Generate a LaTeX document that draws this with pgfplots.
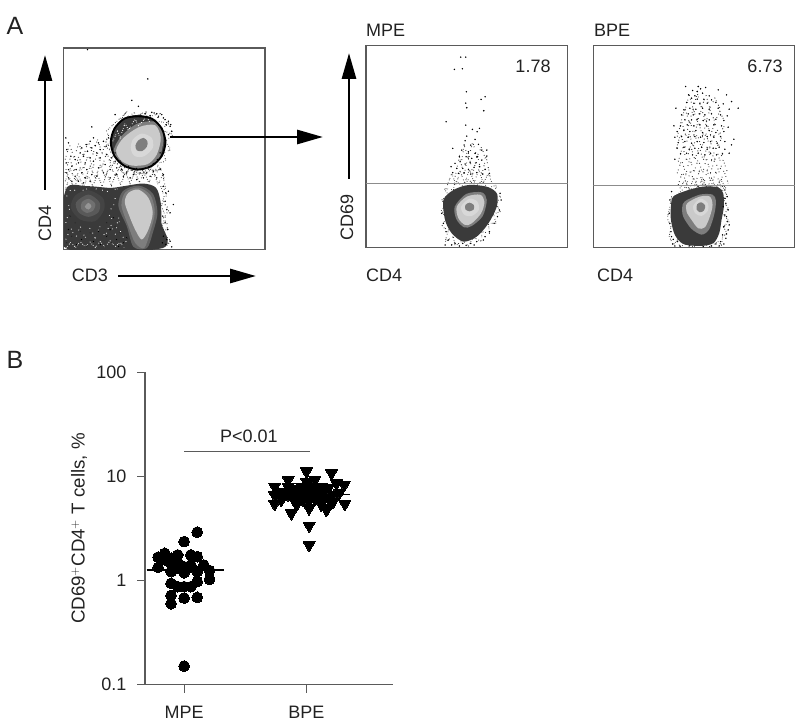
\documentclass[border=0pt]{standalone}
\usepackage{pgfplots}
\pgfplotsset{compat=1.18}
\usepackage{fontspec}
\setmainfont{Liberation Sans}
\usetikzlibrary{arrows.meta}
\definecolor{ink}{HTML}{222222}
\definecolor{frame}{HTML}{5A5A5A}
\definecolor{dk}{HTML}{3A3A3A}
\definecolor{md}{HTML}{7E7E7E}
\definecolor{lt}{HTML}{CACACA}
\definecolor{wh}{HTML}{D8D8D8}
\newcommand\fs{\fontsize{18}{20}\selectfont}
\pgfplotsset{
 flow/.style={scale only axis,width=201.5pt,height=201.5pt,y dir=reverse,xtick=\empty,ytick=\empty,
   axis line style={draw=frame,line width=1.2pt}},
 blob/.style={draw=none,fill=#1,smooth cycle,mark=none,forget plot},
 grain/.style={draw=#1,fill=none,line width=0.85pt,mark=none,forget plot,dash pattern=on 0.8pt off 1.3pt on 0.6pt off 2.3pt on 0.9pt off 0.9pt on 0.6pt off 3.1pt on 0.7pt off 1.7pt},
 sparse/.style={draw=#1,fill=none,line width=0.95pt,mark=none,forget plot,dash pattern=on 0.8pt off 2.3pt on 0.7pt off 4.1pt on 0.9pt off 1.7pt on 0.7pt off 5.3pt on 0.8pt off 3.1pt},
 wsparse/.style={draw=white,fill=none,line width=0.9pt,mark=none,forget plot,dash pattern=on 0.7pt off 4.3pt on 0.8pt off 7.9pt on 0.7pt off 3.1pt on 0.6pt off 9.1pt on 0.8pt off 5.7pt},
 grain/.default=dk, sparse/.default=dk,
 dots/.style={only marks,mark=*,mark size=0.5pt,mark options={draw=none,fill=#1},forget plot},
}
\tikzset{bigarrow/.style={line width=2.9pt,draw=black,-{Triangle[length=26pt,width=14pt]}}}
\begin{document}
\begin{tikzpicture}
\path[use as bounding box] (0pt,0pt) rectangle (799pt,726pt);
% ---------------- panel 1
\begin{axis}[flow,at={(63.5pt,476.5pt)},anchor=south west,xmin=190,xmax=795,ymin=115,ymax=720]
% speckle
\addplot[grain] coordinates {(195,540)(208,505)(222,535)(236,500)(250,532)(264,498)(278,530)(292,495)(306,530)(320,492)(334,528)(348,490)(362,526)(376,488)(390,522)(404,486)(418,518)(432,486)(446,520)(460,488)(474,525)(488,495)(497,540)};
\addplot[grain] coordinates {(195,515)(210,478)(225,512)(240,475)(255,508)(270,470)(285,505)(300,468)(315,502)(330,466)(345,500)(360,470)(375,498)(390,470)(405,495)(420,468)(435,498)(450,470)(465,498)(480,472)(492,505)};
\addplot[sparse] coordinates {(195,490)(208,445)(222,485)(236,440)(250,480)(264,435)(278,475)(292,430)(306,472)(320,428)(334,470)(348,455)(362,482)(380,470)(400,488)(425,475)(450,485)(480,475)};
\addplot[sparse] coordinates {(195,450)(208,405)(222,445)(236,400)(250,440)(264,395)(278,435)(292,390)(306,430)(320,390)(332,430)};
\addplot[sparse] coordinates {(488,530)(500,555)(490,580)(508,600)(490,625)(505,650)(490,672)(512,695)(492,716)};
\addplot[grain] coordinates {(482,530)(492,560)(484,590)(496,620)(486,650)(498,680)(488,716)};
% halo around gate
\addplot[grain] coordinates {(345,340)(375,312)(360,335)(405,308)(395,325)(440,305)(430,325)(480,312)(465,335)(510,340)(480,360)(520,375)(495,395)(512,420)(490,430)(498,455)(475,460)(470,485)(445,478)(420,495)(400,480)(365,490)(365,470)(325,450)(345,435)(315,410)(335,395)(318,365)(345,340)};
\addplot[dots=dk] coordinates {
(262,120)(443,208)(395,272)(415,290)(345,315)(275,352)(395,322)(420,316)(435,312)(450,318)(462,310)(475,322)(485,315)(495,330)(505,335)(510,350)(498,345)(515,365)(505,375)(512,345)(490,325)(470,312)(455,308)(440,320)
(197,385)(205,400)(200,420)(212,440)(198,460)(205,480)(215,470)(225,450)(235,460)(228,480)(240,430)(250,440)(245,415)(262,425)(258,405)(270,395)(275,415)(285,408)(280,385)(295,400)(300,420)(310,395)(318,410)(325,385)(290,430)(270,445)(255,460)(280,455)(300,445)(320,435)(335,445)(345,455)(260,480)(245,490)(225,500)(205,505)(200,490)(215,515)(235,515)(255,505)(275,495)(295,475)(315,465)(330,480)(350,475)(365,480)(380,490)(400,495)(420,490)(440,490)(460,485)(480,480)(490,495)(470,505)(450,500)(430,505)(410,510)(390,505)(370,500)(350,495)(330,505)(310,490)(290,500)(270,515)(250,520)
(490,530)(497,550)(505,545)(520,585)(495,575)(500,600)(488,620)(510,610)(495,640)(503,660)(490,680)(510,695)(497,705)(515,712)(487,700)(500,690)};
% lower population
\addplot[blob=dk] coordinates {(197,540)(260,530)(330,535)(370,530)(430,522)(468,535)(482,580)(484,640)(486,716)(197,716)};
\addplot[blob=dk!85!md] coordinates {(265,542)(308,565)(312,600)(285,635)(240,630)(212,595)(225,558)};
\addplot[blob=dk!55!md] coordinates {(265,555)(298,578)(295,608)(265,622)(235,608)(228,578)};
\addplot[blob=dk!20!md] coordinates {(265,568)(285,582)(280,602)(260,610)(243,598)(245,578)};
\addplot[blob=md!70!lt] coordinates {(265,580)(274,590)(265,600)(254,592)};
\addplot[blob=dk!40!md] coordinates {(415,528)(458,552)(472,610)(458,670)(440,716)(400,712)(380,650)(355,590)(368,545)};
\addplot[blob=md] coordinates {(415,534)(452,558)(464,610)(450,668)(432,716)(405,700)(385,650)(364,588)(376,548)};
\addplot[blob=lt] coordinates {(415,540)(445,565)(458,610)(445,660)(425,690)(405,660)(388,620)(374,578)(385,550)};
% white speckle on dark
\addplot[grain=white] coordinates {(197,716)(212,698)(226,714)(240,696)(255,712)(270,698)(285,714)(300,696)(315,712)(330,694)(345,712)(360,698)(372,714)};
\addplot[wsparse] coordinates {(197,690)(212,655)(226,688)(240,650)(255,685)(270,655)(285,685)(300,650)(315,682)(330,640)(345,680)(355,620)(362,672)(380,700)};
\addplot[wsparse] coordinates {(197,640)(208,600)(200,560)(212,540)(240,545)(270,535)(300,540)(330,548)(352,535)(340,590)(322,610)(345,640)};
\addplot[dots=white,mark size=0.6pt] coordinates {(200,700)(215,680)(230,705)(205,660)(245,690)(260,710)(280,695)(300,705)(320,680)(335,700)(350,690)(330,660)(345,650)(315,710)(355,710)(340,625)(320,640)(225,640)(210,620)(240,665)(270,670)(295,665)(360,670)(370,700)(380,685)};
% gated population
\addplot[blob=dk] coordinates {(496,398)(485,357)(455,327)(414,316)(373,327)(343,357)(332,398)(343,439)(373,469)(414,480)(455,469)(485,439)};
\addplot[blob=md] coordinates {(340,425)(362,382)(412,342)(472,338)(490,385)(478,445)(445,474)(395,476)(355,460)};
\addplot[blob=lt] coordinates {(348,422)(370,385)(418,352)(465,347)(482,385)(470,435)(442,464)(395,468)(362,452)};
\addplot[blob=wh] coordinates {(425,372)(455,385)(458,415)(432,440)(405,440)(392,420)(398,390)};
\addplot[blob=md] coordinates {(430,385)(442,395)(440,412)(425,425)(410,422)(406,408)(414,393)};
\addplot[grain=white] coordinates {(338,395)(352,365)(360,385)(375,340)(385,362)(405,328)(415,348)(440,322)(450,340)};
\addplot[dots=white,mark size=0.6pt] coordinates {(472,450)(480,430)(460,462)(440,475)(410,477)(385,470)(360,455)(345,430)};
\addplot[draw=black,line width=1.9pt,smooth cycle,mark=none,fill=none,forget plot] coordinates {(496,398)(485,357)(455,327)(414,320)(373,327)(343,357)(332,398)(343,439)(373,469)(414,480)(455,469)(485,439)};
\end{axis}
% ---------------- panel 2
\begin{axis}[flow,at={(366pt,478.7pt)},anchor=south west,xmin=78,xmax=682,ymin=107,ymax=712]
\addplot[sparse] coordinates {(345,500)(358,440)(372,495)(385,430)(398,490)(412,435)(425,495)(438,440)(450,500)};
\addplot[sparse] coordinates {(365,450)(372,405)(385,445)(398,395)(410,440)(425,410)(435,445)};
\addplot[grain] coordinates {(322,525)(335,490)(348,525)(360,482)(374,520)(388,478)(402,518)(416,480)(430,520)(444,490)(458,525)};
\addplot[grain] coordinates {(305,570)(325,555)(312,535)(340,540)(345,512)(370,530)(385,508)(405,528)(430,510)(440,535)(470,525)(462,550)(482,560)(468,580)(480,605)(460,612)(468,640)(445,640)(448,670)(425,665)(425,695)(400,682)(385,708)(368,692)(345,708)(340,680)(315,695)(325,660)(305,650)(318,625)(303,600)(318,590)(305,570)};
\addplot[dots=dk] coordinates {
(362,141)(377,141)(343,178)(367,176)(379,245)(377,279)(380,293)(435,260)(423,268)(431,302)(318,335)(377,345)(397,358)(418,355)(411,365)(380,378)(375,392)(405,388)(372,405)(338,415)(365,420)(392,405)(415,403)(425,420)(440,420)(385,425)(405,430)(358,440)(378,440)(395,445)(412,440)(440,438)(345,460)(360,455)(375,462)(390,458)(408,458)(425,450)(333,470)(350,475)(368,475)(385,478)(402,472)(418,470)(435,478)(448,490)(338,488)(355,490)(372,488)(392,492)(410,488)(428,492)
(480,550)(483,570)(478,600)(472,620)(462,640)(448,665)(435,680)(310,640)(305,610)(318,665)(325,690)(315,705)(345,700)(358,708)(378,706)(392,700)(410,695)(430,690)(335,705)(368,700)(402,705)};
\addplot[blob=dk] coordinates {(310,570)(340,540)(385,525)(440,530)(470,550)(470,590)(445,640)(410,680)(370,695)(335,670)(315,630)};
\addplot[blob=md] coordinates {(344,590)(378,552)(425,547)(440,570)(428,618)(395,648)(372,652)(349,628)};
\addplot[blob=lt] coordinates {(350,590)(380,560)(420,554)(433,575)(423,610)(395,640)(375,645)(355,625)};
\addplot[blob=wh] coordinates {(388,566)(412,575)(416,600)(395,618)(372,614)(363,590)};
\addplot[blob=md] coordinates {(388,578)(401,585)(401,598)(388,604)(376,598)(376,585)};
\addplot[draw=black!45,line width=1.2pt,mark=none,forget plot] coordinates {(78,520)(682,520)};
\end{axis}
% ---------------- panel 3
\begin{axis}[flow,at={(593.3pt,478.7pt)},anchor=south west,xmin=10,xmax=615,ymin=18,ymax=622]
\addplot[sparse] coordinates {(265,435)(278,395)(290,435)(302,392)(315,435)(328,395)(340,438)(352,392)(365,435)(378,395)(390,435)(402,392)(415,430)};
\addplot[sparse] coordinates {(262,400)(275,360)(288,402)(300,355)(312,398)(325,358)(338,400)(350,355)(362,398)(375,358)(388,398)(400,360)(412,395)};
\addplot[sparse] coordinates {(265,365)(278,320)(290,362)(302,318)(315,360)(328,320)(340,362)(352,318)(365,360)(378,322)(390,362)(402,325)};
\addplot[sparse] coordinates {(260,325)(272,282)(285,325)(298,280)(310,322)(322,282)(335,325)(348,280)(360,322)(372,285)(385,320)(398,285)};
\addplot[sparse] coordinates {(262,290)(275,245)(288,288)(300,242)(312,285)(325,245)(338,288)(350,245)(362,285)(375,250)(388,285)(405,255)};
\addplot[sparse] coordinates {(272,250)(285,205)(298,248)(310,205)(322,248)(335,208)(348,248)(360,210)(375,245)(390,215)(402,240)};
\addplot[sparse] coordinates {(285,212)(298,165)(310,208)(322,160)(335,205)(348,165)(360,205)(375,175)(390,205)};
\addplot[grain] coordinates {(270,445)(285,420)(298,448)(312,415)(325,445)(338,412)(352,445)(365,415)(378,445)(392,418)(408,445)};
\addplot[grain] coordinates {(245,470)(240,500)(232,535)(243,560)(238,590)(250,615)(262,600)(270,620)(290,612)(310,620)(340,612)(360,620)(385,605)(395,615)(398,590)(412,580)(400,560)(418,545)(402,525)(415,505)(402,485)(412,465)(398,450)(405,438)(375,445)(340,432)(310,448)(285,442)(262,465)(245,470)};
\addplot[dots=dk] coordinates {
(287,140)(325,140)(332,147)(347,143)(308,152)(322,155)(385,150)(296,165)(315,168)(338,160)(358,168)(410,165)(305,175)(322,178)(342,178)(365,180)(425,185)(290,188)(312,190)(330,192)(352,190)(378,188)(400,192)(258,205)(282,210)(300,205)(318,208)(338,205)(358,208)(385,205)(445,205)(418,208)
(275,225)(295,222)(310,225)(328,222)(345,225)(365,222)(392,225)(412,228)(285,240)(305,240)(322,238)(340,242)(358,240)(378,238)(402,242)(252,258)(272,258)(292,255)(312,258)(330,255)(350,258)(372,255)(395,258)(415,262)
(262,275)(282,272)(300,275)(318,272)(338,278)(358,272)(378,278)(402,275)(255,292)(275,290)(295,292)(315,290)(332,292)(352,290)(372,292)(392,290)(432,298)(265,308)(285,305)(305,310)(322,305)(342,308)(362,305)(382,310)(405,305)(425,315)
(262,325)(282,322)(298,328)(315,325)(335,322)(352,328)(370,325)(388,322)(405,328)(272,342)(290,340)(308,345)(325,340)(345,345)(362,340)(380,345)(398,342)(418,340)(255,358)
(405,450)(412,470)(408,490)(415,510)(405,525)(412,545)(402,560)(415,570)(398,585)(408,595)(392,605)(402,612)(388,618)(245,455)(240,480)(238,520)(240,550)(243,575)(250,598)(248,612)(262,605)(270,618)(245,590)(255,618)(365,618)(378,612)(340,620)(298,618)(410,530)(400,500)(405,475)(418,555)(410,582)};
\addplot[blob=dk] coordinates {(250,470)(290,452)(340,440)(385,442)(400,460)(402,500)(395,540)(388,580)(370,610)(330,618)(280,612)(255,585)(243,540)(243,500)};
\addplot[blob=md] coordinates {(285,484)(330,464)(368,464)(378,482)(374,520)(358,568)(335,584)(304,566)(280,530)(277,502)};
\addplot[blob=lt] coordinates {(292,490)(330,470)(360,470)(368,495)(360,530)(345,562)(325,565)(305,540)(290,515)};
\addplot[blob=wh] coordinates {(332,476)(354,490)(354,512)(335,528)(316,520)(310,498)};
\addplot[blob=md] coordinates {(334,487)(346,497)(342,512)(330,517)(320,508)(322,493)};
\addplot[draw=black!45,line width=1.2pt,mark=none,forget plot] coordinates {(10,437)(615,437)};
\end{axis}
% ---------------- panel B
\begin{axis}[scale only axis,at={(145pt,41.3pt)},anchor=south west,width=248pt,height=312.3pt,
  ymode=log,xmin=-0.32,xmax=1.708,ymin=0.1,ymax=100,
  axis x line*=bottom,axis y line*=left,
  axis line style={draw=frame,line width=1.1pt,-},
  tick style={draw=frame,line width=1.1pt},tick align=outside,major tick length=8pt,
  yminorticks=false,
  xtick={0,1},xticklabels={MPE,BPE},ytick={0.1,1,10,100},yticklabels={0.1,1,10,100},
  tick label style={font=\fs,text=ink},
  xticklabel style={yshift=-9.5pt},yticklabel style={xshift=-7pt},
  ylabel={CD69$^+$CD4$^+$ T cells, \%},
  ylabel style={font=\fontsize{18.7}{20}\selectfont,text=ink,at={(axis description cs:-0.266,0.5)},anchor=center},
  clip=false]
\addplot[only marks,mark=*,mark size=5.4pt,mark options={fill=black,draw=black,line width=0}] coordinates {
(0.107,2.92)(0,2.37)(-0.158,1.83)(-0.213,1.68)(-0.052,1.765)(0.055,1.765)(0.107,1.70)(-0.107,1.64)(-0.158,1.58)(-0.052,1.49)(0.055,1.41)(-0.213,1.34)(-0.107,1.47)(0,1.36)(0.161,1.41)(-0.052,1.31)(0.055,1.36)(-0.107,1.22)(0,1.19)(0.107,1.22)(0.208,1.25)(0.208,1.03)(0.107,0.98)(-0.107,0.94)(-0.052,0.875)(0,0.875)(0.055,0.875)(-0.107,0.72)(0,0.68)(0.107,0.69)(-0.107,0.60)(0,0.151)};
\addplot[only marks,mark=triangle*,mark size=7pt,mark options={rotate=180,fill=black,draw=black,line width=0}] coordinates {
(1,11.2)(1.205,10.8)(0.85,9.29)(1,8.95)(1.068,9.29)(1.246,8.63)(1.309,8.31)(0.74,8.01)(0.85,8.01)(0.96,8.01)(1.055,8.01)(1.178,7.72)(0.795,7.17)(0.904,7.17)(1.014,7.44)(1.123,6.91)(0.74,6.66)(0.85,6.66)(0.96,6.66)(1.068,6.66)(1.219,6.66)(0.74,5.46)(0.795,5.97)(0.904,5.97)(1.014,5.75)(1.123,5.97)(1.164,4.96)(1.314,5.46)(1.219,5.75)(0.877,4.44)(1.022,4.96)(1.164,4.78)(1.022,3.38)(1.022,2.20)
(1.02,7.9)(1.02,7.0)(1.02,6.2)(1.07,7.2)(0.97,7.3)(1.07,6.1)(0.97,6.0)(1.12,7.9)(0.88,7.6)(1.18,6.2)(1.27,7.0)(0.85,7.0)(1.12,5.4)(0.92,5.4)};
\addplot[draw=white,line width=2.4pt,mark=none] coordinates {(-0.26,1.267)(0.28,1.267)};
\addplot[draw=black,line width=1.3pt,mark=none] coordinates {(-0.306,1.267)(0.33,1.267)};
\addplot[draw=white,line width=2.6pt,mark=none] coordinates {(0.72,6.66)(1.33,6.66)};
\addplot[draw=black,line width=1.2pt,mark=none] coordinates {(0.694,6.66)(1.36,6.66)};
\addplot[draw=frame,line width=1.1pt,mark=none] coordinates {(0,17.4)(1.03,17.4)};
\node[font=\fs,text=ink] at (axis cs:0.53,24.3) {P<0.01};
\end{axis}
% ---------------- arrows and labels
\begin{scope}[x=1pt,y=1pt]
\draw[bigarrow] (45,726-190) -- (45,726-55);
\draw[bigarrow] (118,726-276) -- (256,726-276);
\draw[bigarrow] (170,726-137) -- (323,726-137);
\draw[bigarrow] (349,726-179) -- (349,726-53);
\begin{scope}[every node/.style={font=\fs,text=ink,inner sep=0pt}]
\node[rotate=90] at (45,726-223) {CD4};
\node at (90,726-275) {CD3};
\node[anchor=west] at (366,726-30) {MPE};
\node[anchor=west] at (594,726-30) {BPE};
\node[anchor=west] at (366,726-275) {CD4};
\node[anchor=west] at (597,726-275) {CD4};
\node[rotate=90] at (347,726-217) {CD69};
\node at (533,726-66) {1.78};
\node at (765,726-66) {6.73};
\end{scope}
\node[font=\fontsize{25}{27}\selectfont,text=ink,inner sep=0pt] at (15,726-26) {A};
\node[font=\fontsize{25}{27}\selectfont,text=ink,inner sep=0pt] at (15,726-360) {B};
\end{scope}
\end{tikzpicture}
\end{document}
